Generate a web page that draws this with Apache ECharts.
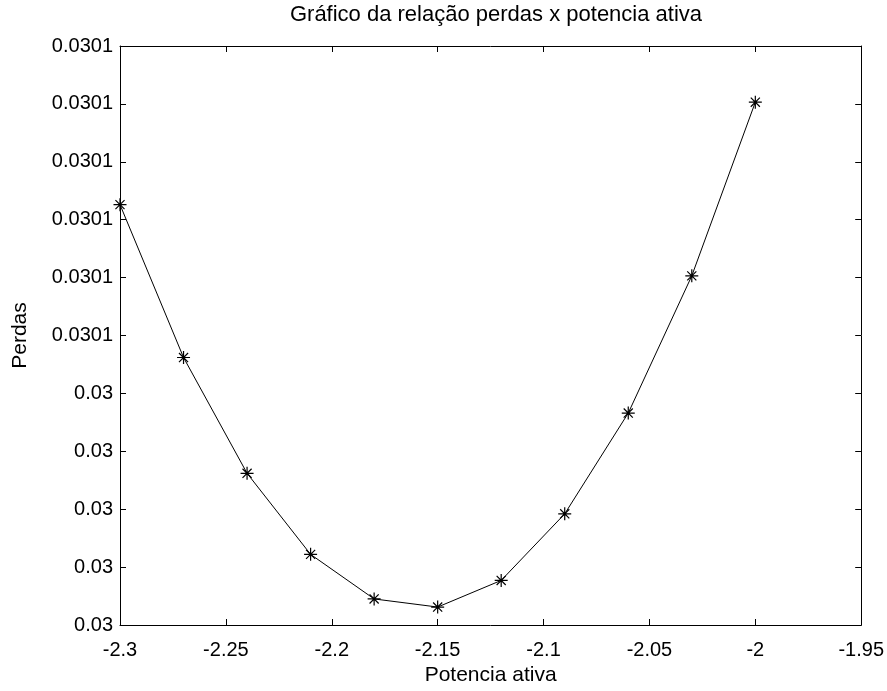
<!DOCTYPE html>
<html>
<head>
<meta charset="utf-8">
<script src="https://cdn.jsdelivr.net/npm/echarts@6/dist/echarts.min.js"></script>
<style>html,body{margin:0;padding:0;background:#fff}#c{width:887px;height:691px}</style>
</head>
<body>
<div id="c"></div>
<script>
// Data (y in tick-step units: 0 = bottom tick, 10 = top tick)
const potenciaAtiva = [-2.3, -2.27, -2.24, -2.21, -2.18, -2.15, -2.12, -2.09, -2.06, -2.03, -2.0];
const perdas = [7.26, 4.62, 2.62, 1.22, 0.45, 0.31, 0.77, 1.92, 3.66, 6.03, 9.03];
const yTickLabels = ['0.03', '0.03', '0.03', '0.03', '0.03', '0.0301', '0.0301', '0.0301', '0.0301', '0.0301', '0.0301'];
const xTickLabels = ['-2.3', '-2.25', '-2.2', '-2.15', '-2.1', '-2.05', '-2', '-1.95'];

const FONT = 'Liberation Sans';
const chart = echarts.init(document.getElementById('c'), null, {renderer: 'canvas'});
const pts = potenciaAtiva.map((x, i) => [x, perdas[i]]);
const star = 'path://M0,-6L0,6M-6,0L6,0M-4.2,-4.2L4.2,4.2M-4.2,4.2L4.2,-4.2';

const xBase = {
  type: 'value', min: -2.3, max: -1.95, interval: 0.05,
  axisLine: {show: true, onZero: false, lineStyle: {color: '#000', width: 1}},
  axisTick: {show: true, inside: true, length: 6, lineStyle: {color: '#000'}},
  splitLine: {show: false}
};
const yBase = {
  type: 'value', min: 0, max: 10, interval: 1,
  axisLine: {show: true, onZero: false, lineStyle: {color: '#000', width: 1}},
  axisTick: {show: true, inside: true, length: 6, lineStyle: {color: '#000'}},
  splitLine: {show: false}
};

chart.setOption({
  animation: false,
  backgroundColor: '#fff',
  textStyle: {fontFamily: FONT},
  title: {
    text: 'Gráfico da relação perdas x potencia ativa',
    left: 491, top: -1, textAlign: 'center',
    textStyle: {fontFamily: FONT, fontSize: 22, fontWeight: 'normal', color: '#000'}
  },
  grid: {left: 120, right: 25, top: 46, bottom: 58, containLabel: false},
  xAxis: [
    Object.assign({}, xBase, {
      position: 'bottom',
      name: 'Potencia ativa', nameLocation: 'middle', nameGap: 40,
      nameTextStyle: {fontFamily: FONT, fontSize: 21, color: '#000'},
      axisLabel: {show: true, margin: 15, color: '#000', fontFamily: FONT, fontSize: 20,
        formatter: (v) => { const i = Math.round((v + 2.3) / 0.05); return xTickLabels[i] !== undefined ? xTickLabels[i] : ''; }}
    }),
    Object.assign({}, xBase, {position: 'top', axisLabel: {show: false}})
  ],
  yAxis: [
    Object.assign({}, yBase, {
      position: 'left',
      name: 'Perdas', nameLocation: 'middle', nameGap: 89, nameRotate: 90,
      nameTextStyle: {fontFamily: FONT, fontSize: 21, color: '#000'},
      axisLabel: {show: true, margin: 7, color: '#000', fontFamily: FONT, fontSize: 20,
        formatter: (v) => yTickLabels[Math.round(v)] || ''}
    }),
    Object.assign({}, yBase, {position: 'right', axisLabel: {show: false}})
  ],
  series: [{
    type: 'line',
    data: pts,
    xAxisIndex: 0, yAxisIndex: 0,
    symbol: star, symbolSize: 13,
    showAllSymbol: true,
    lineStyle: {color: '#000', width: 1},
    itemStyle: {color: 'rgba(0,0,0,0)', borderColor: '#000', borderWidth: 1.2},
    emphasis: {disabled: true}
  }]
});
</script>
</body>
</html>
